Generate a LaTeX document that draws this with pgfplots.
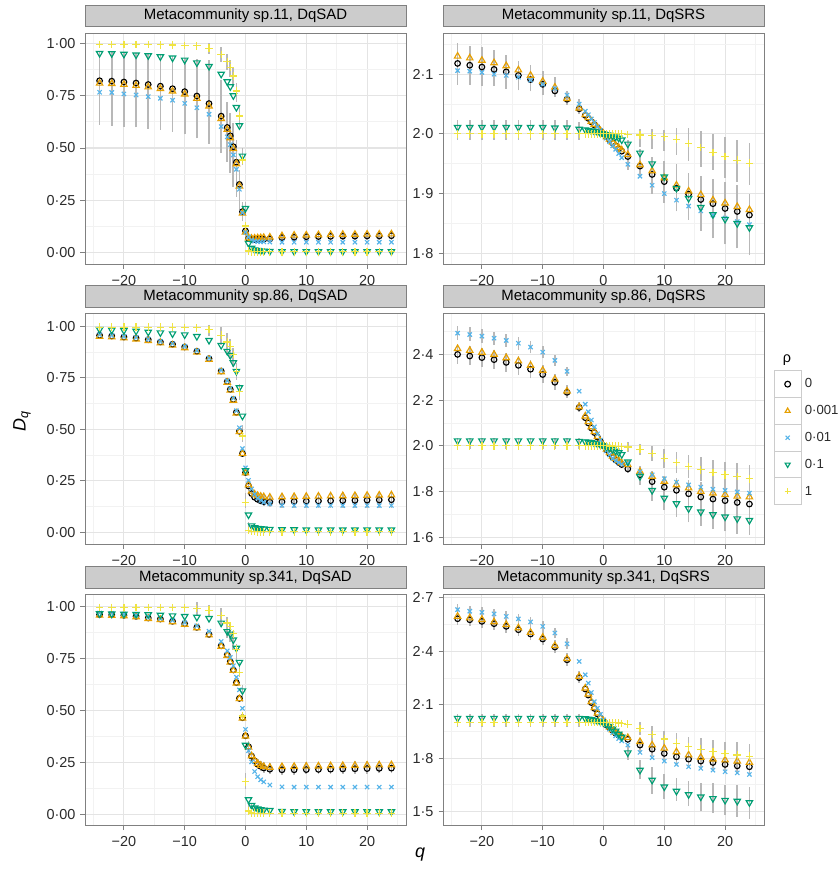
\documentclass[border=0pt]{standalone}
\usepackage{fontspec}
\setmainfont{Liberation Sans}
\usepackage{pgfplots}
\usepackage{pgfplotstable}
\pgfplotsset{compat=1.18}
\definecolor{c0}{HTML}{000000}
\definecolor{c1}{HTML}{E69F00}
\definecolor{c2}{HTML}{56B4E9}
\definecolor{c3}{HTML}{009E73}
\definecolor{c4}{HTML}{F0E442}
\definecolor{gridmaj}{HTML}{E4E4E4}
\definecolor{gridmin}{HTML}{F2F2F2}
\definecolor{framecol}{HTML}{808080}
\definecolor{stripfill}{HTML}{CCCCCC}
\definecolor{keyborder}{HTML}{CCCCCC}
\definecolor{tickcol}{HTML}{2B2B2B}
\definecolor{barcol}{HTML}{B8B8B8}
\newcommand\fs{\fontsize{14.5}{17}\selectfont}
\newcommand\fst{\fontsize{15}{17}\selectfont}
\newcommand\fsl{\fontsize{13.2}{15}\selectfont}

% ---------------- data: q, rho=0 (a), 0.001 (b), 0.01 (c), 0.1 (d), 1 (e)
\pgfplotstableread{
q a b c d e
-24 0.821 0.809 0.766 0.952 0.995
-22 0.819 0.807 0.765 0.951 0.995
-20 0.815 0.803 0.758 0.948 0.995
-18 0.810 0.798 0.753 0.945 0.994
-16 0.803 0.791 0.745 0.941 0.994
-14 0.795 0.783 0.737 0.936 0.993
-12 0.783 0.771 0.728 0.930 0.992
-10 0.769 0.757 0.713 0.920 0.990
-8 0.748 0.736 0.692 0.907 0.988
-6 0.712 0.700 0.661 0.890 0.976
-4 0.652 0.640 0.602 0.853 0.947
-3 0.598 0.588 0.553 0.817 0.912
-2.5 0.558 0.548 0.516 0.793 0.885
-2 0.506 0.496 0.467 0.750 0.844
-1.5 0.432 0.424 0.398 0.694 0.772
-1 0.326 0.318 0.303 0.607 0.653
-0.5 0.196 0.188 0.190 0.462 0.443
0 0.104 0.098 0.097 0.212 0.127
0.5 0.068 0.070 0.075 0.045 0.008
1 0.064 0.068 0.060 0.022 0.004
1.5 0.063 0.069 0.055 0.014 0.004
2 0.063 0.070 0.053 0.011 0.004
2.5 0.064 0.071 0.052 0.009 0.004
3 0.064 0.072 0.052 0.008 0.004
4 0.066 0.074 0.051 0.007 0.004
6 0.072 0.080 0.050 0.006 0.004
8 0.074 0.083 0.050 0.006 0.004
10 0.076 0.084 0.050 0.006 0.004
12 0.077 0.085 0.050 0.006 0.004
14 0.078 0.086 0.050 0.006 0.004
16 0.079 0.087 0.050 0.006 0.004
18 0.079 0.087 0.050 0.006 0.004
20 0.080 0.088 0.050 0.006 0.004
22 0.080 0.088 0.050 0.006 0.004
24 0.081 0.089 0.050 0.006 0.004
}\TL
\pgfplotstableread{
q lo hi
-24 0.610 0.960
-22 0.607 0.958
-20 0.602 0.955
-18 0.598 0.952
-16 0.593 0.948
-14 0.586 0.943
-12 0.578 0.937
-10 0.565 0.930
-8 0.546 0.925
-6 0.520 0.920
-4 0.476 0.825
-3 0.435 0.720
-2.5 0.380 0.667
-2 0.314 0.620
-1.5 0.267 0.540
-1 0.204 0.395
-0.5 0.150 0.240
0 0.070 0.130
-6 0.950 1.000
-4 0.910 0.980
-3 0.870 0.950
-2.5 0.840 0.920
-2 0.790 0.880
-1.5 0.720 0.810
-1 0.600 0.700
-0.5 0.420 0.500
0 0.180 0.240
0.5 0.050 0.085
1 0.050 0.080
1.5 0.050 0.080
2 0.050 0.080
2.5 0.050 0.080
3 0.050 0.080
4 0.052 0.085
6 0.055 0.095
8 0.056 0.097
10 0.057 0.099
12 0.058 0.100
14 0.058 0.100
16 0.059 0.101
18 0.059 0.101
20 0.060 0.102
22 0.060 0.102
24 0.060 0.103
}\TLbar

\pgfplotstableread{
q a b c d e
-24 2.118 2.130 2.106 2.011 2.000
-22 2.115 2.127 2.105 2.011 2.000
-20 2.112 2.123 2.103 2.011 2.000
-18 2.108 2.119 2.100 2.011 2.000
-16 2.104 2.114 2.098 2.011 2.000
-14 2.098 2.107 2.095 2.011 2.000
-12 2.091 2.098 2.090 2.011 2.000
-10 2.083 2.088 2.083 2.011 2.000
-8 2.072 2.078 2.076 2.010 2.000
-6 2.058 2.059 2.065 2.010 2.000
-4 2.042 2.043 2.050 2.008 2.000
-3 2.031 2.032 2.038 2.007 2.000
-2.5 2.026 2.027 2.032 2.006 2.000
-2 2.020 2.021 2.025 2.005 2.000
-1.5 2.015 2.016 2.019 2.004 2.000
-1 2.010 2.011 2.012 2.003 2.000
-0.5 2.005 2.005 2.006 2.001 2.000
0 2.000 2.000 2.000 2.000 2.000
0.5 1.995 1.995 1.993 1.999 2.000
1 1.990 1.991 1.987 1.998 2.000
1.5 1.985 1.986 1.980 1.997 2.000
2 1.980 1.981 1.974 1.995 2.000
2.5 1.975 1.977 1.967 1.993 2.000
3 1.971 1.973 1.960 1.990 2.000
4 1.962 1.965 1.949 1.983 1.999
6 1.946 1.948 1.929 1.968 1.998
8 1.932 1.938 1.914 1.950 1.997
10 1.920 1.926 1.900 1.928 1.995
12 1.909 1.914 1.889 1.909 1.991
14 1.899 1.904 1.879 1.892 1.984
16 1.890 1.898 1.871 1.877 1.977
18 1.883 1.889 1.864 1.865 1.969
20 1.875 1.884 1.859 1.857 1.962
22 1.870 1.878 1.853 1.850 1.956
24 1.864 1.873 1.848 1.843 1.951
}\TR
\pgfplotstableread{
q lo hi
-24 2.082 2.152
-22 2.082 2.148
-20 2.081 2.145
-18 2.080 2.140
-16 2.076 2.132
-14 2.073 2.122
-12 2.071 2.115
-10 2.065 2.105
-8 2.062 2.095
-6 2.048 2.072
-4 2.033 2.058
-24 1.990 2.023
-22 1.990 2.023
-20 1.990 2.023
-18 1.990 2.023
-16 1.990 2.023
-14 1.990 2.023
-12 1.990 2.023
-10 1.990 2.023
-8 1.990 2.023
-6 1.990 2.023
-4 1.990 2.020
4 1.940 1.990
6 1.931 1.975
8 1.900 1.962
10 1.885 1.955
12 1.870 1.950
14 1.856 1.934
16 1.838 1.930
18 1.825 1.925
20 1.815 1.920
22 1.808 1.915
24 1.797 1.900
6 1.978 2.009
8 1.975 2.008
10 1.972 2.006
12 1.965 2.010
14 1.955 2.010
16 1.945 2.005
18 1.940 2.000
20 1.926 1.995
22 1.920 1.990
24 1.915 1.985
}\TRbar

\pgfplotstableread{
q a b c d e
-24 0.955 0.950 0.958 0.984 0.995
-22 0.952 0.947 0.955 0.981 0.995
-20 0.947 0.942 0.950 0.979 0.995
-18 0.942 0.937 0.945 0.976 0.995
-16 0.934 0.929 0.937 0.971 0.995
-14 0.923 0.918 0.926 0.968 0.995
-12 0.912 0.907 0.915 0.963 0.995
-10 0.899 0.894 0.902 0.958 0.994
-8 0.878 0.873 0.881 0.950 0.992
-6 0.842 0.838 0.845 0.931 0.984
-4 0.782 0.778 0.786 0.907 0.956
-3 0.731 0.727 0.735 0.878 0.923
-2.5 0.693 0.689 0.698 0.858 0.902
-2 0.644 0.640 0.650 0.823 0.863
-1.5 0.582 0.578 0.590 0.781 0.780
-1 0.490 0.488 0.507 0.702 0.681
-0.5 0.382 0.382 0.406 0.564 0.467
0 0.290 0.288 0.313 0.300 0.145
0.5 0.225 0.230 0.252 0.085 0.008
1 0.188 0.200 0.210 0.032 0.004
1.5 0.170 0.185 0.185 0.023 0.004
2 0.160 0.178 0.166 0.020 0.003
2.5 0.153 0.174 0.155 0.018 0.003
3 0.149 0.172 0.146 0.017 0.003
4 0.147 0.170 0.138 0.015 0.003
6 0.148 0.172 0.131 0.013 0.003
8 0.150 0.173 0.130 0.013 0.003
10 0.151 0.174 0.130 0.012 0.003
12 0.152 0.175 0.130 0.012 0.003
14 0.153 0.176 0.130 0.012 0.003
16 0.154 0.177 0.130 0.012 0.003
18 0.155 0.178 0.130 0.012 0.003
20 0.156 0.179 0.130 0.012 0.003
22 0.157 0.180 0.130 0.012 0.003
24 0.158 0.181 0.130 0.012 0.003
}\ML
\pgfplotstableread{
q lo hi
-6 0.950 1.005
-4 0.910 0.995
-3 0.870 0.965
-2.5 0.840 0.935
-2 0.800 0.895
-1.5 0.740 0.820
-1 0.640 0.720
-0.5 0.440 0.520
0 0.120 0.190
0.5 0.200 0.260
1 0.170 0.220
1.5 0.150 0.200
2 0.140 0.190
2.5 0.135 0.185
3 0.130 0.185
4 0.125 0.185
6 0.120 0.190
8 0.120 0.190
10 0.120 0.190
12 0.120 0.195
14 0.120 0.195
16 0.120 0.195
18 0.120 0.195
20 0.120 0.195
22 0.120 0.195
24 0.120 0.195
0.5 0.000 0.050
1 0.000 0.030
1.5 0.000 0.030
2 0.000 0.030
}\MLbar

\pgfplotstableread{
q a b c d e
-24 2.400 2.425 2.493 2.022 2.000
-22 2.393 2.417 2.487 2.022 2.000
-20 2.386 2.409 2.480 2.022 2.000
-18 2.377 2.400 2.471 2.022 2.000
-16 2.365 2.385 2.461 2.022 2.000
-14 2.352 2.371 2.449 2.022 2.000
-12 2.335 2.352 2.432 2.022 2.000
-10 2.312 2.330 2.410 2.022 2.000
-8 2.278 2.291 2.374 2.022 2.000
-6 2.234 2.239 2.326 2.022 2.000
-4 2.168 2.170 2.239 2.020 2.000
-3 2.123 2.130 2.182 2.018 2.000
-2.5 2.100 2.105 2.149 2.016 2.000
-2 2.078 2.083 2.113 2.014 2.000
-1.5 2.058 2.062 2.083 2.011 2.000
-1 2.038 2.040 2.052 2.008 2.000
-0.5 2.018 2.018 2.025 2.004 2.000
0 2.000 2.000 2.000 2.000 2.000
0.5 1.982 1.985 1.978 1.995 2.000
1 1.965 1.970 1.960 1.990 1.999
1.5 1.950 1.955 1.945 1.984 1.999
2 1.938 1.945 1.935 1.977 1.998
2.5 1.927 1.935 1.927 1.970 1.998
3 1.918 1.925 1.920 1.962 1.997
4 1.899 1.917 1.925 1.930 1.995
6 1.873 1.887 1.887 1.866 1.985
8 1.843 1.866 1.873 1.805 1.967
10 1.819 1.844 1.856 1.771 1.946
12 1.805 1.829 1.841 1.747 1.927
14 1.790 1.815 1.829 1.725 1.909
16 1.776 1.800 1.819 1.711 1.895
18 1.767 1.793 1.810 1.699 1.883
20 1.760 1.786 1.805 1.689 1.873
22 1.752 1.779 1.798 1.681 1.866
24 1.745 1.776 1.793 1.674 1.856
}\MR
\pgfplotstableread{
q lo hi
-24 2.360 2.440
-22 2.353 2.435
-20 2.346 2.428
-18 2.337 2.418
-16 2.325 2.405
-14 2.312 2.392
-12 2.295 2.375
-10 2.275 2.352
-8 2.245 2.315
-6 2.210 2.265
-4 2.150 2.190
-24 2.465 2.525
-22 2.460 2.518
-20 2.452 2.510
-18 2.443 2.500
-16 2.433 2.490
-14 2.421 2.478
-12 2.405 2.460
-10 2.383 2.437
-8 2.350 2.398
-6 2.305 2.345
-24 1.985 2.035
-22 1.985 2.035
-20 1.985 2.035
-18 1.985 2.035
-16 1.985 2.035
-14 1.985 2.035
-12 1.985 2.035
-10 1.985 2.035
-8 1.985 2.035
-6 1.985 2.035
-4 1.985 2.035
4 1.975 2.015
6 1.960 2.010
8 1.935 2.000
10 1.905 1.985
12 1.880 1.975
14 1.860 1.960
16 1.845 1.950
18 1.830 1.940
20 1.820 1.930
22 1.810 1.925
24 1.800 1.915
4 1.880 1.920
6 1.835 1.910
8 1.800 1.890
10 1.770 1.870
12 1.750 1.860
14 1.730 1.850
16 1.715 1.840
18 1.700 1.835
20 1.690 1.830
22 1.680 1.825
24 1.670 1.820
6 1.830 1.900
8 1.760 1.850
10 1.720 1.820
12 1.690 1.800
14 1.665 1.785
16 1.650 1.770
18 1.635 1.765
20 1.625 1.755
22 1.615 1.750
24 1.610 1.740
}\MRbar

\pgfplotstableread{
q a b c d e
-24 0.960 0.957 0.968 0.965 0.995
-22 0.959 0.956 0.966 0.964 0.995
-20 0.957 0.954 0.963 0.963 0.995
-18 0.952 0.949 0.958 0.962 0.995
-16 0.944 0.941 0.951 0.960 0.995
-14 0.939 0.936 0.943 0.958 0.995
-12 0.928 0.925 0.933 0.955 0.994
-10 0.916 0.913 0.922 0.952 0.993
-8 0.899 0.896 0.906 0.948 0.990
-6 0.865 0.862 0.880 0.942 0.981
-4 0.810 0.807 0.831 0.920 0.955
-3 0.767 0.764 0.786 0.879 0.920
-2.5 0.734 0.731 0.754 0.867 0.903
-2 0.694 0.691 0.714 0.839 0.868
-1.5 0.633 0.630 0.659 0.799 0.794
-1 0.557 0.555 0.598 0.731 0.681
-0.5 0.464 0.462 0.509 0.594 0.472
0 0.377 0.375 0.408 0.332 0.155
0.5 0.324 0.322 0.305 0.070 0.015
1 0.279 0.280 0.251 0.042 0.005
1.5 0.256 0.258 0.205 0.030 0.004
2 0.240 0.243 0.180 0.025 0.004
2.5 0.230 0.234 0.165 0.022 0.004
3 0.222 0.228 0.155 0.020 0.004
4 0.216 0.225 0.140 0.018 0.004
6 0.213 0.228 0.131 0.013 0.004
8 0.213 0.229 0.130 0.012 0.004
10 0.214 0.230 0.130 0.012 0.004
12 0.215 0.231 0.130 0.012 0.004
14 0.216 0.232 0.130 0.012 0.004
16 0.217 0.233 0.130 0.012 0.004
18 0.218 0.234 0.130 0.012 0.004
20 0.219 0.235 0.130 0.012 0.004
22 0.220 0.236 0.130 0.012 0.004
24 0.221 0.237 0.130 0.012 0.004
}\BL
\pgfplotstableread{
q lo hi
-8 0.960 1.020
-6 0.950 1.005
-4 0.900 0.990
-3 0.850 0.950
-2.5 0.830 0.920
-2 0.790 0.880
-1.5 0.730 0.820
-1 0.660 0.730
-0.5 0.540 0.620
0 0.120 0.200
0.5 0.290 0.350
1 0.250 0.300
1.5 0.230 0.280
2 0.215 0.265
2.5 0.205 0.255
3 0.200 0.250
4 0.195 0.245
6 0.190 0.245
8 0.190 0.248
10 0.192 0.250
12 0.192 0.250
14 0.193 0.252
16 0.194 0.253
18 0.195 0.254
20 0.195 0.255
22 0.196 0.256
24 0.196 0.257
0.5 0.010 0.060
1 0.000 0.050
1.5 0.000 0.040
2 0.000 0.035
2.5 0.000 0.035
3 0.000 0.030
}\BLbar

\pgfplotstableread{
q a b c d e
-24 2.583 2.596 2.634 2.024 2.000
-22 2.577 2.587 2.625 2.024 2.000
-20 2.568 2.578 2.619 2.024 2.000
-18 2.555 2.565 2.610 2.024 2.000
-16 2.540 2.550 2.596 2.024 2.000
-14 2.521 2.531 2.582 2.024 2.000
-12 2.497 2.506 2.565 2.024 2.000
-10 2.469 2.478 2.540 2.024 2.000
-8 2.424 2.431 2.503 2.024 2.000
-6 2.352 2.358 2.442 2.024 2.000
-4 2.252 2.258 2.343 2.024 2.000
-3 2.188 2.193 2.268 2.022 2.000
-2.5 2.154 2.159 2.221 2.019 2.000
-2 2.112 2.117 2.168 2.016 2.000
-1.5 2.079 2.083 2.117 2.012 2.000
-1 2.048 2.052 2.080 2.008 2.000
-0.5 2.024 2.027 2.046 2.004 2.000
0 2.005 2.008 2.014 2.000 2.000
0.5 1.985 1.988 1.985 1.990 1.999
1 1.970 1.973 1.962 1.978 1.999
1.5 1.955 1.958 1.942 1.965 1.998
2 1.940 1.944 1.925 1.952 1.998
2.5 1.928 1.932 1.910 1.935 1.997
3 1.918 1.922 1.897 1.918 1.995
4 1.905 1.914 1.873 1.830 1.990
6 1.873 1.892 1.832 1.732 1.967
8 1.850 1.873 1.802 1.676 1.933
10 1.826 1.855 1.783 1.638 1.907
12 1.807 1.835 1.764 1.614 1.883
14 1.794 1.817 1.751 1.595 1.863
16 1.783 1.804 1.742 1.582 1.850
18 1.775 1.794 1.732 1.573 1.835
20 1.764 1.789 1.723 1.563 1.826
22 1.756 1.783 1.717 1.558 1.817
24 1.751 1.775 1.708 1.550 1.811
}\BR
\pgfplotstableread{
q lo hi
-24 2.548 2.630
-22 2.542 2.622
-20 2.533 2.613
-18 2.520 2.600
-16 2.505 2.585
-14 2.486 2.566
-12 2.462 2.541
-10 2.434 2.513
-8 2.389 2.466
-6 2.317 2.393
-4 2.222 2.288
-24 2.604 2.664
-22 2.595 2.655
-20 2.589 2.649
-18 2.580 2.640
-16 2.566 2.626
-14 2.552 2.612
-12 2.535 2.595
-10 2.510 2.570
-8 2.473 2.533
-6 2.412 2.472
-24 1.975 2.050
-22 1.975 2.050
-20 1.975 2.050
-18 1.975 2.050
-16 1.975 2.050
-14 1.975 2.050
-12 1.975 2.050
-10 1.975 2.050
-8 1.975 2.050
-6 1.975 2.050
-4 1.975 2.050
4 1.790 1.870
6 1.680 1.790
8 1.600 1.750
10 1.570 1.710
12 1.560 1.690
14 1.530 1.670
16 1.500 1.660
18 1.490 1.660
20 1.480 1.650
22 1.470 1.650
24 1.460 1.640
6 1.930 2.000
8 1.890 1.980
10 1.860 1.950
12 1.830 1.940
14 1.800 1.920
16 1.790 1.910
18 1.770 1.900
20 1.760 1.890
22 1.750 1.890
24 1.740 1.880
6 1.835 1.915
8 1.810 1.890
10 1.785 1.865
12 1.765 1.850
14 1.750 1.835
16 1.740 1.825
18 1.730 1.815
20 1.720 1.805
22 1.715 1.800
24 1.710 1.795
}\BRbar

\pgfplotsset{
  panel/.style={
    scale only axis, width=321bp, height=231bp,
    xmin=-26.4, xmax=26.4,
    xtick={-20,-10,0,10,20}, xticklabels={−20,−10,0,10,20},
    minor xtick={-25,-15,-5,5,15,25},
    grid=both,
    major grid style={draw=gridmaj, line width=1.1bp},
    minor grid style={draw=gridmin, line width=0.7bp},
    axis line style={draw=framecol, line width=0.9bp},
    tick style={draw=framecol, line width=0.9bp},
    major tick length=4.5bp, minor tick length=0pt,
    tick align=outside, tick pos=left,
    tick label style={font=\fs, text=tickcol},
    xticklabel style={yshift=-3bp},
    yticklabel style={xshift=-1.5bp},
    title style={at={(0.5,1)}, anchor=south, yshift=0pt, fill=stripfill,
      draw=framecol, line width=0.9bp, minimum width=321bp,
      minimum height=21.5bp, inner sep=0pt, font=\fst, text=black},
  },
  sad/.style={ytick={0,0.25,0.5,0.75,1},
    yticklabels={0·00,0·25,0·50,0·75,1·00},
    minor ytick={0.125,0.375,0.625,0.875}},
  s0/.style={only marks, mark=o, mark size=2.8bp, color=c0, mark options={line width=1.15bp, solid}},
  s1/.style={only marks, mark=triangle, mark size=3.7bp, color=c1, mark options={line width=1.15bp, solid}},
  s2/.style={only marks, mark=x, mark size=3.0bp, color=c2, mark options={line width=1.15bp, solid}},
  s3/.style={only marks, mark=triangle, mark size=3.7bp, color=c3, mark options={line width=1.15bp, solid, rotate=180}},
  s4/.style={only marks, mark=+, mark size=3.8bp, color=c4, mark options={line width=1.2bp, solid}},
}

\newcommand\drawpanel[2]{%
  \addplot[forget plot, draw=none, no markers,
    error bars/.cd, y dir=plus, y explicit, error mark=none,
    error bar style={draw=barcol, line width=1.7bp, solid}]
    table[x=q, y=lo, y error expr=\thisrow{hi}-\thisrow{lo}] {#2};
  \addplot[s0] table[x=q, y=a] {#1};
  \addplot[s1] table[x=q, y=b] {#1};
  \addplot[s2] table[x=q, y=c] {#1};
  \addplot[s3] table[x=q, y=d] {#1};
  \addplot[s4] table[x=q, y=e] {#1};
}

\begin{document}
\begin{tikzpicture}
\useasboundingbox (0,0) rectangle (838bp,-870bp);

% top-left
\begin{axis}[panel, sad, at={(85bp,-33bp)}, anchor=north west,
  ymin=-0.054, ymax=1.049, title={Metacommunity sp.11, DqSAD}]
\drawpanel{\TL}{\TLbar}
\end{axis}

% top-right
\begin{axis}[panel, at={(443bp,-33bp)}, anchor=north west,
  ymin=1.782, ymax=2.169,
  ytick={1.8,1.9,2.0,2.1}, yticklabels={1·8,1·9,2·0,2·1},
  minor ytick={1.85,1.95,2.05,2.15},
  title={Metacommunity sp.11, DqSRS}]
\drawpanel{\TR}{\TRbar}
\end{axis}

% middle-left
\begin{axis}[panel, sad, at={(85bp,-313.5bp)}, anchor=north west,
  ymin=-0.059, ymax=1.061, title={Metacommunity sp.86, DqSAD}]
\drawpanel{\ML}{\MLbar}
\end{axis}

% middle-right (carries the legend)
\begin{axis}[panel, at={(443bp,-313.5bp)}, anchor=north west,
  ymin=1.568, ymax=2.579,
  ytick={1.6,1.8,2.0,2.2,2.4}, yticklabels={1·6,1·8,2·0,2·2,2·4},
  minor ytick={1.7,1.9,2.1,2.3,2.5},
  title={Metacommunity sp.86, DqSRS},
  legend style={at={(1.029,0.755)}, anchor=north west, draw=none, fill=none,
    inner sep=0pt, row sep=-0.9bp, column sep=3bp, font=\fsl, text=tickcol,
    nodes={inner sep=0pt}},
  legend cell align=left,
  legend image code/.code={%
    \draw[draw=keyborder, fill=white, line width=0.9bp, solid]
      (-13.7bp,-13.4bp) rectangle (13.7bp,13.4bp);
    \draw[#1, mark size=2.9bp] plot coordinates {(0bp,0bp)};},
  legend entries={0,0·001,0·01,0·1,1}]
\drawpanel{\MR}{\MRbar}
\end{axis}

% bottom-left
\begin{axis}[panel, sad, at={(85bp,-594.5bp)}, anchor=north west,
  ymin=-0.055, ymax=1.057, title={Metacommunity sp.341, DqSAD}]
\drawpanel{\BL}{\BLbar}
\end{axis}

% bottom-right
\begin{axis}[panel, at={(443bp,-594.5bp)}, anchor=north west,
  ymin=1.421, ymax=2.719,
  ytick={1.5,1.8,2.1,2.4,2.7}, yticklabels={1·5,1·8,2·1,2·4,2·7},
  minor ytick={1.65,1.95,2.25,2.55},
  title={Metacommunity sp.341, DqSRS}]
\drawpanel{\BR}{\BRbar}
\end{axis}

\node[font=\fs, text=black] at (787bp,-360bp) {ρ};
\node[rotate=90, font=\fontsize{18}{20}\selectfont] at (22bp,-421bp) {\textit{D}\textsubscript{\textit{q}}};
\node[font=\fontsize{18}{20}\selectfont] at (420bp,-855bp) {\textit{q}};
\end{tikzpicture}
\end{document}
